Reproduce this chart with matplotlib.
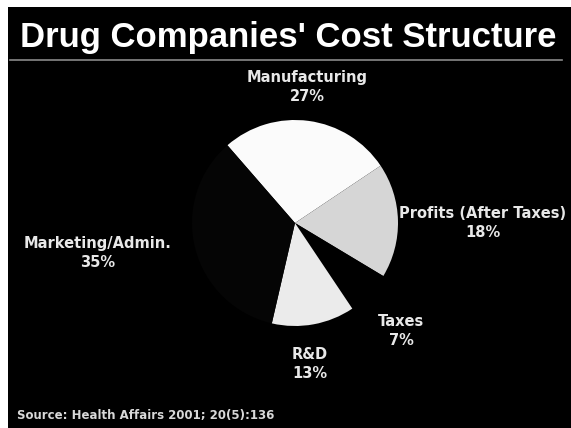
import matplotlib.pyplot as plt
from matplotlib.patches import Rectangle

labels = ["Manufacturing", "Profits (After Taxes)", "Taxes", "R&D", "Marketing/Admin."]
shares = [27, 18, 7, 13, 35]
colors = ["#fbfbfb", "#d6d6d6", "#000000", "#ebebeb", "#050505"]
# label anchor points in figure pixels (x from left, y from top)
label_xy = [(307, 87), (483, 223), (401, 331), (310, 364), (98, 253)]
title = "Drug Companies' Cost Structure"
source = "Source: Health Affairs 2001; 20(5):136"

W, H = 571, 428
fig = plt.figure(figsize=(W / 100, H / 100), dpi=100, facecolor="white")

# black slide background with a thin rule under the title
fig.patches.append(Rectangle((8 / W, 0), 1, 1 - 7 / H, transform=fig.transFigure,
                             facecolor="black", edgecolor="none", zorder=-5))
fig.add_artist(plt.Line2D([10 / W, 562 / W], [1 - 60 / H, 1 - 60 / H],
                          transform=fig.transFigure, color="#8a8a8a", lw=1.2))

fig.text(288 / W, 1 - 38 / H, title, color="white", fontsize=25, fontweight="bold",
         family="Liberation Sans", ha="center", va="center")

# pie centred near (295, 223) px with ~103 px radius
cx, cy, r = 295, 223, 103
ax = fig.add_axes([(cx - r) / W, 1 - (cy + r) / H, 2 * r / W, 2 * r / H])
ax.pie(shares, colors=colors, startangle=131, counterclock=False,
       wedgeprops=dict(edgecolor="none"))
ax.set_aspect("auto")
ax.set_xlim(-1, 1)
ax.set_ylim(-1, 1)
ax.axis("off")

for lab, val, (x, y) in zip(labels, shares, label_xy):
    fig.text(x / W, 1 - y / H, f"{lab}\n{val}%", color="#e8e8e8", fontsize=10.5,
             fontweight="bold", family="DejaVu Sans", ha="center", va="center",
             linespacing=1.35)

fig.text(17 / W, 1 - 416 / H, source, color="#d8d8d8", fontsize=8.5,
         fontweight="bold", family="DejaVu Sans", ha="left", va="center")

fig.savefig("out.png", dpi=100, facecolor=fig.get_facecolor())
